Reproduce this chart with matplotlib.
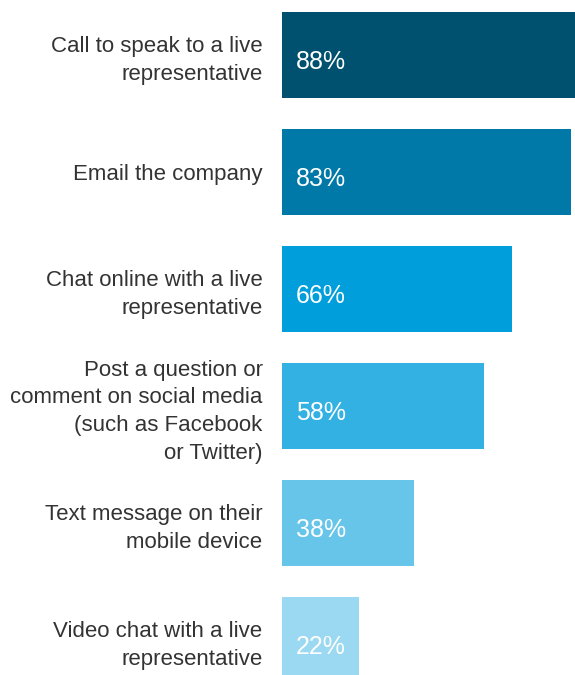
import matplotlib.pyplot as plt

channels = [
    "Call to speak to a live\nrepresentative",
    "Email the company",
    "Chat online with a live\nrepresentative",
    "Post a question or\ncomment on social media\n(such as Facebook\nor Twitter)",
    "Text message on their\nmobile device",
    "Video chat with a live\nrepresentative",
]
shares = [88, 83, 66, 58, 38, 22]
bar_colors = ["#00506F", "#0078A8", "#009FDB", "#33B1E2", "#67C5EA", "#9AD9F1"]

plt.rcParams["font.family"] = ["Liberation Sans", "DejaVu Sans"]

fig = plt.figure(figsize=(5.75, 6.75), dpi=100)
ax = fig.add_axes([282 / 575, 0, 293 / 575, 1])

pos = list(range(len(channels)))
ax.barh(pos, shares, height=0.735, color=bar_colors)

# value labels sit inside the bars, just off the left end
for y, v in zip(pos, shares):
    ax.text(4.0, y + 0.12, f"{v}%", color="white", fontsize=18,
            ha="left", va="baseline")

ax.set_xlim(0, 84.2)
ax.set_ylim(5.30, -0.47)
ax.set_yticks(pos)
ax.set_yticklabels(channels, fontsize=16, color="#333333", linespacing=1.42)
ax.tick_params(axis="y", length=0, pad=14)
ax.set_xticks([])
for s in ax.spines.values():
    s.set_visible(False)

fig.savefig("out.png", dpi=100)
